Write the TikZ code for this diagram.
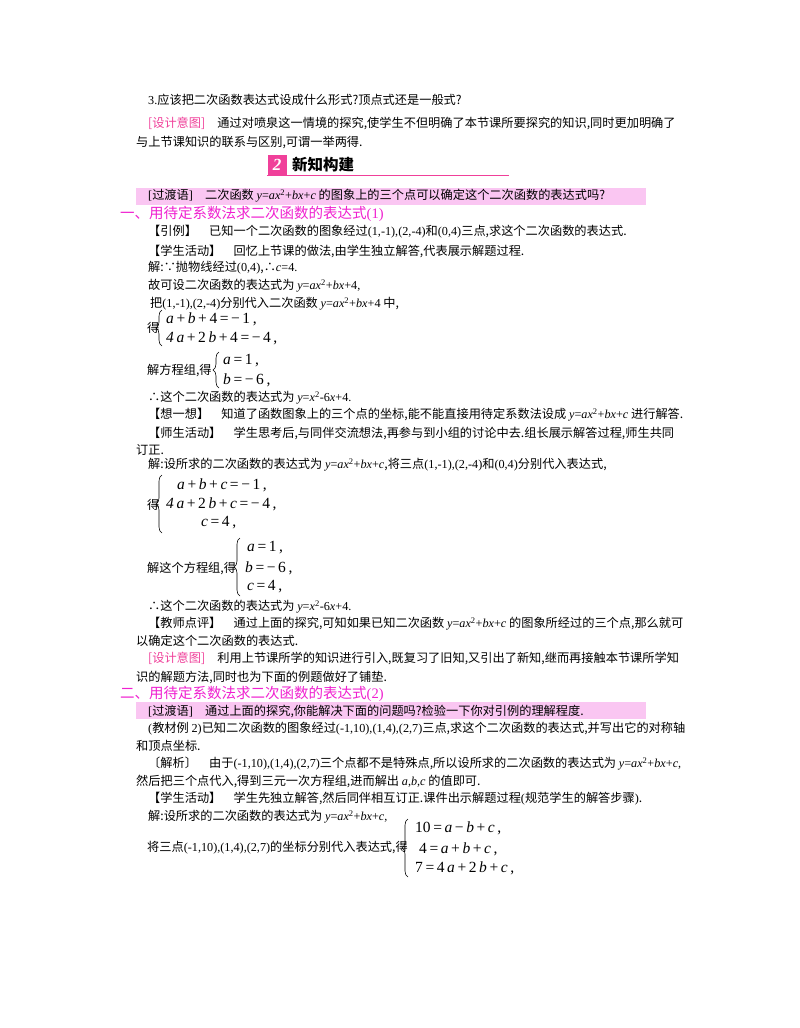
\documentclass[tikz,border=0pt]{standalone}
\usepackage{fontspec}
\setmainfont{Noto Sans CJK SC}
\newfontfamily\tms{Liberation Serif}
\usetikzlibrary{decorations.pathreplacing}
\definecolor{mag}{HTML}{F020D0}
\definecolor{dpink}{HTML}{F0409A}
\definecolor{band}{HTML}{FAC6F2}
\newcommand\m[1]{{\tms\itshape #1}}
\newcommand\n[1]{{\tms #1}}
\newcounter{ln}
\newcommand\T[3]{\stepcounter{ln}\node[txt] (t\theln) at (#1,#2) {#3};}
\newcommand\E[3]{\stepcounter{ln}\node[eq] (e\theln) at (#1,#2) {#3};}
\newcommand\B[3]{\stepcounter{ln}\coordinate (b\theln a) at (#1,#3);\coordinate (b\theln b) at (#1,#2);\draw[brc] (b\theln a) -- (b\theln b);}
\begin{document}
\begin{tikzpicture}[x=1pt,y=-1pt,
 txt/.style={anchor=west,inner sep=0pt,font=\fontsize{12.2}{14}\selectfont},
 eq/.style={anchor=west,inner sep=0pt,font=\fontsize{15.5}{17}\selectfont\tms\itshape},
 brc/.style={decorate,decoration={brace,amplitude=6pt},line width=0.6pt}]
\useasboundingbox (0,0) rectangle (800,1028);
\fill[white] (0,0) rectangle (800,1028);
% bands
\fill[band] (136,188) rectangle (646,205);
\fill[band] (136,702) rectangle (646,719);
\T{148}{100}{\n{3.}应该把二次函数表达式设成什么形式?顶点式还是一般式?}
\T{148}{123}{\textcolor{dpink}{[设计意图]}\quad 通过对喷泉这一情境的探究,使学生不但明确了本节课所要探究的知识,同时更加明确了}
\T{136}{142}{与上节课知识的联系与区别,可谓一举两得.}
% header
\stepcounter{ln}
\node[fill=dpink,text=white,font=\fontsize{17}{17}\selectfont\bfseries\itshape,minimum width=19pt,minimum height=20pt,inner sep=0pt] (h2) at (277,165) {\tms 2};
\node[anchor=west,inner sep=0pt,font=\fontsize{15.5}{17}\selectfont\bfseries] (hd) at (292,165) {新知构建};
\draw[dpink,line width=0.6pt] (h2.south west) -- ++(242,0) coordinate (hu);
\T{148}{196}{\n{[}过渡语\n{]}\quad 二次函数 \m{y}\n{=}\m{ax}\textsuperscript{\n{2}}\n{+}\m{bx}\n{+}\m{c} 的图象上的三个点可以确定这个二次函数的表达式吗?}
\T{120}{214}{\textcolor{mag}{\fontsize{14.5}{16}\selectfont 一、用待定系数法求二次函数的表达式\n{(1)}}}
\T{148}{232}{【引例】\quad 已知一个二次函数的图象经过\n{(1,-1),(2,-4)}和\n{(0,4)}三点,求这个二次函数的表达式.}
\T{148}{251}{【学生活动】\quad 回忆上节课的做法,由学生独立解答,代表展示解题过程.}
\T{148}{268}{解:∵抛物线经过\n{(0,4)},∴\m{c}\n{=4.}}
\T{148}{286}{故可设二次函数的表达式为 \m{y}\n{=}\m{ax}\textsuperscript{\n{2}}\n{+}\m{bx}\n{+4,}}
\T{150}{304}{把\n{(1,-1),(2,-4)}分别代入二次函数 \m{y}\n{=}\m{ax}\textsuperscript{\n{2}}\n{+}\m{bx}\n{+4} 中,}
\T{147}{328}{得}
\B{162}{310}{346}
\E{166}{319}{a\,\upshape+\,\itshape b\,\upshape+\,4\,=\,−\,1\,,}
\E{166}{338}{4\,a\upshape\,+\,2\,\itshape b\upshape\,+\,4\,=\,−\,4\,,}
\T{147}{370}{解方程组,得}
\B{219}{352}{388}
\E{223}{361}{a\upshape\,=\,1\,,}
\E{223}{380}{b\upshape\,=\,−\,6\,,}
\T{148}{398}{∴这个二次函数的表达式为 \m{y}\n{=}\m{x}\textsuperscript{\n{2}}\n{-6}\m{x}\n{+4.}}
\T{148}{415}{【想一想】\quad 知道了函数图象上的三个点的坐标,能不能直接用待定系数法设成 \m{y}\n{=}\m{ax}\textsuperscript{\n{2}}\n{+}\m{bx}\n{+}\m{c} 进行解答.}
\T{148}{433}{【师生活动】\quad 学生思考后,与同伴交流想法,再参与到小组的讨论中去.组长展示解答过程,师生共同}
\T{136}{450}{订正.}
\T{148}{465}{解:设所求的二次函数的表达式为 \m{y}\n{=}\m{ax}\textsuperscript{\n{2}}\n{+}\m{bx}\n{+}\m{c},将三点\n{(1,-1),(2,-4)}和\n{(0,4)}分别代入表达式,}
\T{147}{505}{得}
\B{162}{475}{533}
\E{177}{485}{a\upshape\,+\,\itshape b\upshape\,+\,\itshape c\upshape\,=\,−\,1\,,}
\E{166}{504}{4\,a\upshape\,+\,2\,\itshape b\upshape\,+\,\itshape c\upshape\,=\,−\,4\,,}
\E{201}{523}{c\upshape\,=\,4\,,}
\T{147}{568}{解这个方程组,得}
\B{240}{538}{596}
\E{247}{548}{a\upshape\,=\,1\,,}
\E{245}{568}{b\upshape\,=\,−\,6\,,}
\E{247}{587}{c\upshape\,=\,4\,,}
\T{148}{607}{∴这个二次函数的表达式为 \m{y}\n{=}\m{x}\textsuperscript{\n{2}}\n{-6}\m{x}\n{+4.}}
\T{148}{624}{【教师点评】\quad 通过上面的探究,可知如果已知二次函数 \m{y}\n{=}\m{ax}\textsuperscript{\n{2}}\n{+}\m{bx}\n{+}\m{c} 的图象所经过的三个点,那么就可}
\T{136}{641}{以确定这个二次函数的表达式.}
\T{148}{658}{\textcolor{dpink}{[设计意图]}\quad 利用上节课所学的知识进行引入,既复习了旧知,又引出了新知,继而再接触本节课所学知}
\T{136}{677}{识的解题方法,同时也为下面的例题做好了铺垫.}
\T{120}{694}{\textcolor{mag}{\fontsize{14.5}{16}\selectfont 二、用待定系数法求二次函数的表达式\n{(2)}}}
\T{148}{711}{\n{[}过渡语\n{]}\quad 通过上面的探究,你能解决下面的问题吗?检验一下你对引例的理解程度.}
\T{148}{729}{\n{(}教材例 \n{2)}已知二次函数的图象经过\n{(-1,10),(1,4),(2,7)}三点,求这个二次函数的表达式,并写出它的对称轴}
\T{136}{746}{和顶点坐标.}
\T{148}{764}{〔解析〕\quad 由于\n{(-1,10),(1,4),(2,7)}三个点都不是特殊点,所以设所求的二次函数的表达式为 \m{y}\n{=}\m{ax}\textsuperscript{\n{2}}\n{+}\m{bx}\n{+}\m{c}\n{,}}
\T{136}{781}{然后把三个点代入,得到三元一次方程组,进而解出 \m{a}\n{,}\m{b}\n{,}\m{c} 的值即可.}
\T{148}{799}{【学生活动】\quad 学生先独立解答,然后同伴相互订正.课件出示解题过程\n{(}规范学生的解答步骤\n{)}.}
\T{148}{817}{解:设所求的二次函数的表达式为 \m{y}\n{=}\m{ax}\textsuperscript{\n{2}}\n{+}\m{bx}\n{+}\m{c}\n{,}}
\T{147}{848}{将三点\n{(-1,10),(1,4),(2,7)}的坐标分别代入表达式,得}
\B{408}{819}{877}
\E{415}{828}{\upshape 10\,=\,\itshape a\upshape\,−\,\itshape b\upshape\,+\,\itshape c\upshape\,,}
\E{419}{849}{\upshape 4\,=\,\itshape a\upshape\,+\,\itshape b\upshape\,+\,\itshape c\upshape\,,}
\E{415}{868}{\upshape 7\,=\,4\,\itshape a\upshape\,+\,2\,\itshape b\upshape\,+\,\itshape c\upshape\,,}
\end{tikzpicture}
\end{document}
